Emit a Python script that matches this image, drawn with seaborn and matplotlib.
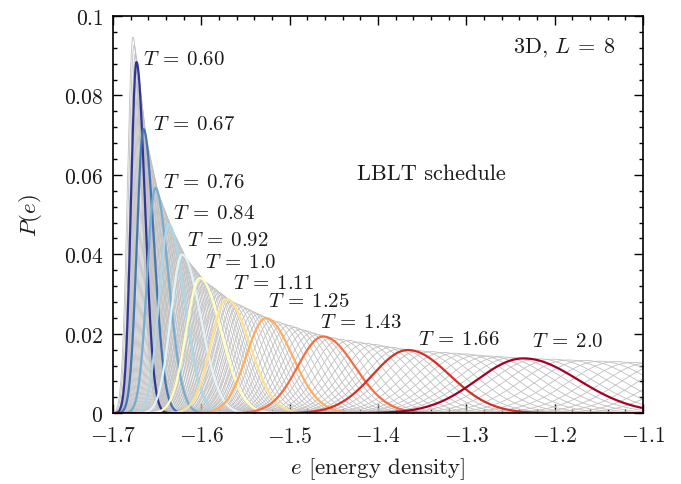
import numpy as np
import pandas as pd
import matplotlib
matplotlib.use("Agg")
import matplotlib.pyplot as plt
import seaborn as sns
from matplotlib.ticker import MultipleLocator

# ---------------- data ----------------
# labelled (coloured) temperatures: peak energy, peak height, left / right widths
temps = ["0.60", "0.67", "0.76", "0.84", "0.92", "1.0", "1.11", "1.25", "1.43", "1.66", "2.0"]
peak_e = [-1.6735, -1.6655, -1.6522, -1.637, -1.6218, -1.6017, -1.5713, -1.527, -1.462, -1.366, -1.235]
peak_h = [0.0884, 0.0715, 0.0567, 0.0475, 0.0399, 0.0340, 0.0287, 0.0239, 0.0193, 0.0159, 0.0138]
sigma_left = [0.0062, 0.0075, 0.0092, 0.0110, 0.0130, 0.0155, 0.0180, 0.0220, 0.0290, 0.0400, 0.0530]
sigma_right = [0.0095, 0.0118, 0.0150, 0.0180, 0.0210, 0.0240, 0.0260, 0.0300, 0.0360, 0.0470, 0.0620]

# label anchor positions (data coordinates)
label_x = [-1.6658, -1.6545, -1.6431, -1.6317, -1.6157, -1.5953, -1.5645, -1.5247, -1.4655, -1.3551, -1.2253]
label_y = [0.0891, 0.0727, 0.0581, 0.0503, 0.0437, 0.0381, 0.0328, 0.0283, 0.0230, 0.0187, 0.0182]

# remaining (grey) temperatures of the schedule: peak energy and peak height
gray_e = [-1.6775, -1.6762, -1.6748,
          -1.6727, -1.6719, -1.6711, -1.6703, -1.6695, -1.6687, -1.6679, -1.6671, -1.6663,
          -1.6642, -1.6628, -1.6615, -1.6602, -1.6588, -1.6575, -1.6562, -1.6548, -1.6535,
          -1.6507, -1.6492, -1.6476, -1.6461, -1.6446, -1.6431, -1.6416, -1.6400, -1.6385,
          -1.6355, -1.6340, -1.6324, -1.6309, -1.6294, -1.6279, -1.6264, -1.6248, -1.6233,
          -1.6198, -1.6178, -1.6158, -1.6138, -1.6117, -1.6097, -1.6077, -1.6057, -1.6037,
          -1.5987, -1.5956, -1.5926, -1.5895, -1.5865, -1.5835, -1.5804, -1.5774, -1.5743,
          -1.5669, -1.5624, -1.5580, -1.5536, -1.5492, -1.5447, -1.5403, -1.5359, -1.5314,
          -1.5205, -1.5140, -1.5075, -1.5010, -1.4945, -1.4880, -1.4815, -1.4750, -1.4685,
          -1.4524, -1.4428, -1.4332, -1.4236, -1.4140, -1.4044, -1.3948, -1.3852, -1.3756,
          -1.3529, -1.3398, -1.3267, -1.3136, -1.3005, -1.2874, -1.2743, -1.2612, -1.2481,
          -1.219, -1.202, -1.185, -1.167, -1.149, -1.131, -1.112, -1.093, -1.074, -1.055, -1.036, -1.017]
gray_h = [0.0947, 0.0926, 0.0905,
          0.0867, 0.0850, 0.0833, 0.0816, 0.0800, 0.0783, 0.0766, 0.0749, 0.0732,
          0.0700, 0.0685, 0.0671, 0.0656, 0.0641, 0.0626, 0.0611, 0.0597, 0.0582,
          0.0558, 0.0549, 0.0539, 0.0530, 0.0521, 0.0512, 0.0503, 0.0493, 0.0484,
          0.0467, 0.0460, 0.0452, 0.0445, 0.0437, 0.0429, 0.0422, 0.0414, 0.0407,
          0.0393, 0.0387, 0.0381, 0.0375, 0.0370, 0.0364, 0.0358, 0.0352, 0.0346,
          0.0335, 0.0329, 0.0324, 0.0319, 0.0314, 0.0308, 0.0303, 0.0298, 0.0292,
          0.0282, 0.0277, 0.0273, 0.0268, 0.0263, 0.0258, 0.0253, 0.0249, 0.0244,
          0.0234, 0.0230, 0.0225, 0.0221, 0.0216, 0.0211, 0.0207, 0.0202, 0.0198,
          0.0190, 0.0186, 0.0183, 0.0179, 0.0176, 0.0173, 0.0169, 0.0166, 0.0162,
          0.0157, 0.0155, 0.0153, 0.0151, 0.0149, 0.0146, 0.0144, 0.0142, 0.0140,
          0.0137, 0.0136, 0.0134, 0.0133, 0.0131, 0.0130, 0.0128, 0.0127, 0.0126, 0.0125, 0.0124, 0.0123]

x_ticks = [-1.7, -1.6, -1.5, -1.4, -1.3, -1.2, -1.1]
x_tick_labels = ["$-1.7$", "$-1.6$", "$-1.5$", "$-1.4$", "$-1.3$", "$-1.2$", "$-1.1$"]
y_ticks = [0.0, 0.02, 0.04, 0.06, 0.08, 0.1]
y_tick_labels = ["$0$", "$0.02$", "$0.04$", "$0.06$", "$0.08$", "$0.1$"]

# ---------------- style ----------------
sns.set_style("ticks")
plt.rcParams["font.family"] = ["cmr10", "DejaVu Serif"]
plt.rcParams["mathtext.fontset"] = "cm"
plt.rcParams["axes.unicode_minus"] = False
plt.rcParams["axes.formatter.use_mathtext"] = True

# ---------------- build curves ----------------
e_grid = np.linspace(-1.72, -1.0, 1600)


def split_peak(mu, h, sl, sr):
    s = np.where(e_grid < mu, sl, sr)
    return h * np.exp(-(e_grid - mu) ** 2 / (2 * s ** 2))


gray_sl = np.interp(gray_e, peak_e, sigma_left)
gray_sr = np.interp(gray_e, peak_e, sigma_right)
gray_rows = []
for i, (mu, h, sl, sr) in enumerate(zip(gray_e, gray_h, gray_sl, gray_sr)):
    gray_rows.append(pd.DataFrame({"e": e_grid, "P": split_peak(mu, h, sl, sr), "curve": i}))
gray_df = pd.concat(gray_rows, ignore_index=True)

col_rows = []
for t, mu, h, sl, sr in zip(temps, peak_e, peak_h, sigma_left, sigma_right):
    col_rows.append(pd.DataFrame({"e": e_grid, "P": split_peak(mu, h, sl, sr), "T": t}))
col_df = pd.concat(col_rows, ignore_index=True)

cmap = matplotlib.colormaps["RdYlBu_r"]
palette = [cmap(v) for v in np.linspace(0.0, 1.0, len(temps))]

# ---------------- plot ----------------
fig = plt.figure(figsize=(6.81, 4.85), dpi=100)
ax = fig.add_axes([0.166, 0.146, 0.778, 0.819])

sns.lineplot(data=gray_df, x="e", y="P", units="curve", estimator=None,
             color="#c0c0c0", lw=0.6, ax=ax, legend=False, sort=False)
sns.lineplot(data=col_df, x="e", y="P", hue="T", hue_order=temps, palette=palette,
             estimator=None, lw=1.6, ax=ax, legend=False, sort=False)

for t, lx, ly in zip(temps, label_x, label_y):
    ax.text(lx, ly, rf"$T\:=\:{t}$", fontsize=15, ha="left", va="center", color="#1a1a1a")

ax.text(0.949, 0.922, r"3D, $L\:=\:8$", transform=ax.transAxes, fontsize=16,
        ha="right", va="center", color="#1a1a1a")
ax.text(-1.339, 0.0604, "LBLT schedule", fontsize=16, ha="center", va="center", color="#1a1a1a")

ax.set_xlim(-1.7, -1.1)
ax.set_ylim(0, 0.1)
ax.set_xticks(x_ticks)
ax.set_xticklabels(x_tick_labels)
ax.set_yticks(y_ticks)
ax.set_yticklabels(y_tick_labels)
ax.xaxis.set_minor_locator(MultipleLocator(0.02))
ax.yaxis.set_minor_locator(MultipleLocator(0.004))
ax.tick_params(which="both", direction="in", top=True, right=True, color="black", width=1.0,
               labelsize=15.5, labelcolor="#1a1a1a")
ax.tick_params(axis="x", which="major", length=6.5, pad=9)
ax.tick_params(axis="y", which="major", length=6.5, pad=7)
ax.tick_params(which="minor", length=3.2)
for sp in ax.spines.values():
    sp.set_linewidth(1.2)
    sp.set_color("black")

ax.set_xlabel(r"$e$ [energy density]", fontsize=16.5, labelpad=7, color="#1a1a1a")
ax.set_ylabel(r"$P(e)$", fontsize=16.5, labelpad=14, color="#1a1a1a")

fig.savefig("out.png", dpi=100)
